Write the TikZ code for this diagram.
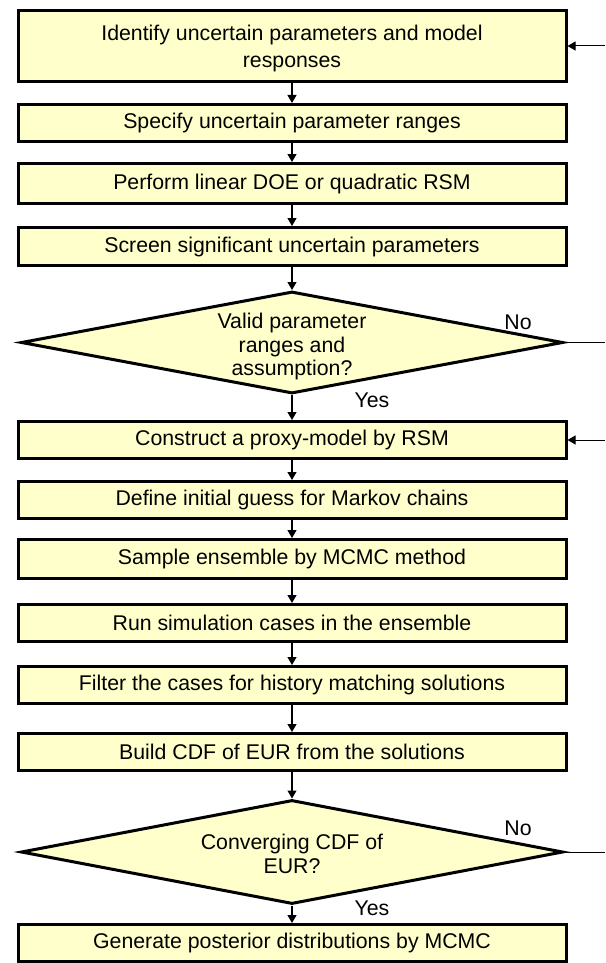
\documentclass[tikz,border=0pt]{standalone}
\usepackage{fontspec}
\setmainfont{Liberation Sans}
\usetikzlibrary{shapes.geometric, arrows.meta}
\definecolor{boxyellow}{HTML}{FFFFCC}

\begin{document}
\begin{tikzpicture}[x=1pt, y=1pt,
	font=\fontsize{21.3}{23.5}\selectfont,
	stepbox/.style={draw=black, line width=3pt, fill=boxyellow, minimum width=548pt, inner sep=0pt, align=center},
	decision/.style={draw=black, line width=3pt, fill=boxyellow, diamond, inner sep=0pt, minimum width=542pt, minimum height=102pt},
	flow/.style={line width=1.2pt, -{Triangle[length=8pt, width=9pt]}},
	loopline/.style={line width=1pt}]
		% Define the size of the page
		\useasboundingbox (0, 0) rectangle (605, -963);
		
		% Calculate the center of the column, all boxes hang from it
		\coordinate (center) at (292, 0);
		
		\begin{scope}
			% First part: set up the parameters
			\node[stepbox, minimum height=71pt] (identify) at ([yshift=-46pt] center) {};
			\node[align=center] (identifytext) at ([yshift=-2.5pt] identify) {Identify uncertain parameters and model\\[3pt] responses};
			\node[stepbox, minimum height=37pt] (specify) at ([yshift=-123pt] center) {Specify uncertain parameter ranges};
			\node[stepbox, minimum height=40pt] (perform) at ([yshift=-183.5pt] center) {Perform linear DOE or quadratic RSM};
			\node[stepbox, minimum height=38pt] (screen) at ([yshift=-246.5pt] center) {Screen significant uncertain parameters};
		\end{scope}
		
		\begin{scope}
			% First check, the diamond is drawn empty and the text goes on top
			\node[decision] (valid) at ([yshift=-342.5pt] center) {};
			\node[align=center] (validtext) at ([yshift=-4pt] valid) {Valid parameter\\ ranges and\\ assumption?};
		\end{scope}
		
		\begin{scope}
			% Second part: proxy-model and MCMC
			\node[stepbox, minimum height=37pt] (construct) at ([yshift=-440pt] center) {Construct a proxy-model by RSM};
			\node[stepbox, minimum height=37pt] (define) at ([yshift=-500pt] center) {Define initial guess for Markov chains};
			\node[stepbox, minimum height=39pt] (sample) at ([yshift=-559pt] center) {Sample ensemble by MCMC method};
			\node[stepbox, minimum height=37pt] (run) at ([yshift=-623pt] center) {Run simulation cases in the ensemble};
			\node[stepbox, minimum height=37pt] (filter) at ([yshift=-685pt] center) {Filter the cases for history matching solutions};
			\node[stepbox, minimum height=37pt] (build) at ([yshift=-752pt] center) {Build CDF of EUR from the solutions};
		\end{scope}
		
		\begin{scope}
			% Second check
			\node[decision, minimum height=104pt] (converging) at ([yshift=-852pt] center) {};
			\node[align=center] (convergingtext) at ([yshift=-2pt] converging) {Converging CDF of\\ EUR?};
		\end{scope}
		
		% Last box
		\node[stepbox, minimum height=37pt] (generate) at ([yshift=-943pt] center) {Generate posterior distributions by MCMC};
		
		% Arrows down the column
		\draw[flow] (identify) -- (specify);
		\draw[flow] (specify) -- (perform);
		\draw[flow] (perform) -- (screen);
		\draw[flow] (screen) -- (valid.north);
		\draw[flow] (valid.south) -- (construct);
		\draw[flow] (construct) -- (define);
		\draw[flow] (define) -- (sample);
		\draw[flow] (sample) -- (run);
		\draw[flow] (run) -- (filter);
		\draw[flow] (filter) -- (build);
		\draw[flow] (build) -- (converging.north);
		\draw[flow] (converging.south) -- (generate);
		
		% Loops back on the right side
		\coordinate (validexit) at (605, -342.5);
		\coordinate (identifyentry) at (605, -46);
		\coordinate (convergingexit) at (605, -852);
		\coordinate (constructentry) at (605, -440);
		\draw[loopline] (valid.east) -- (validexit);
		\draw[flow, line width=1pt] (identifyentry) -- (identify.east);
		\draw[loopline] (converging.east) -- (convergingexit);
		\draw[flow, line width=1pt] (constructentry) -- (construct.east);
		
		% Text
		\begin{scope}
			\node (validno) at (518, -322) {No};
			\node (validyes) at (372, -400) {Yes};
			\node (convergingno) at (518, -828) {No};
			\node (convergingyes) at (372, -908) {Yes};
		\end{scope}
	\end{tikzpicture}
\end{document}
